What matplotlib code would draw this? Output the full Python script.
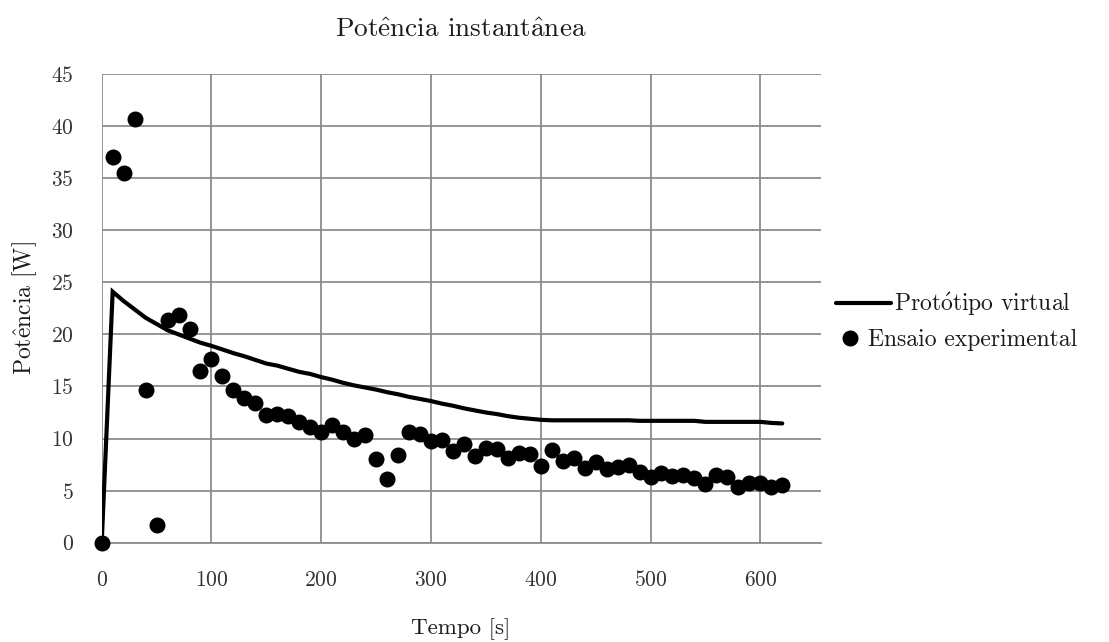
import matplotlib
matplotlib.use("Agg")
import matplotlib.pyplot as plt
from matplotlib.lines import Line2D

plt.rcParams['font.family'] = ['cmr10', 'DejaVu Serif']
plt.rcParams['mathtext.fontset'] = 'cm'
plt.rcParams['axes.formatter.use_mathtext'] = True

# Experimental test: instantaneous power sampled every 10 s
tempo_ensaio = list(range(0, 630, 10))
potencia_ensaio = [
    0.0, 37.0, 35.45, 40.7, 14.65, 1.7, 21.4, 21.9, 20.5, 16.5,
    17.6, 16.0, 14.7, 13.9, 13.4, 12.3, 12.4, 12.2, 11.6, 11.1,
    10.6, 11.3, 10.65, 10.0, 10.3, 8.0, 6.1, 8.4, 10.65, 10.4,
    9.75, 9.85, 8.8, 9.45, 8.3, 9.1, 8.95, 8.15, 8.6, 8.5,
    7.4, 8.9, 7.85, 8.1, 7.2, 7.7, 7.05, 7.25, 7.5, 6.75,
    6.3, 6.65, 6.45, 6.5, 6.25, 5.65, 6.5, 6.35, 5.3, 5.7,
    5.7, 5.3, 5.55,
]

# Virtual prototype simulation
tempo_virtual = list(range(0, 630, 10))
potencia_virtual = [
    0.0, 24.1, 23.2, 22.4, 21.6, 21.0, 20.4, 20.0, 19.6, 19.2,
    18.9, 18.55, 18.2, 17.9, 17.55, 17.2, 17.0, 16.7, 16.4, 16.2,
    15.9, 15.65, 15.35, 15.1, 14.9, 14.7, 14.45, 14.25, 14.0, 13.8,
    13.6, 13.35, 13.15, 12.9, 12.7, 12.5, 12.35, 12.15, 12.0, 11.9,
    11.8, 11.75, 11.75, 11.75, 11.75, 11.75, 11.75, 11.75, 11.75, 11.7,
    11.7, 11.7, 11.7, 11.7, 11.7, 11.6, 11.6, 11.6, 11.6, 11.6,
    11.6, 11.5, 11.45,
]

x_ticks = [0, 100, 200, 300, 400, 500, 600]
y_ticks = [0, 5, 10, 15, 20, 25, 30, 35, 40, 45]

# Accented letters drawn with mathtext so they stay in Computer Modern
titulo = r'Pot$\hat{\mathrm{e}}$ncia instant$\hat{\mathrm{a}}$nea'
rotulo_x = 'Tempo [s]'
rotulo_y = r'Pot$\hat{\mathrm{e}}$ncia [W]'
nome_virtual = r'Prot$\acute{\mathrm{o}}$tipo virtual'
nome_ensaio = 'Ensaio experimental'

fig = plt.figure(figsize=(11.09, 6.42), dpi=100)
ax = fig.add_axes([0.0917, 0.1547, 0.6483, 0.73])

ax.plot(tempo_virtual, potencia_virtual, color='black', lw=3.0,
        solid_capstyle='round', solid_joinstyle='miter', zorder=3)
ax.plot(tempo_ensaio, potencia_ensaio, 'o', color='black', ms=10.5,
        zorder=4, clip_on=False)

ax.set_xlim(0, 655)
ax.set_ylim(0, 45)
ax.set_xticks(x_ticks)
ax.set_yticks(y_ticks)
ax.grid(True, color='#8c8c8c', lw=1.3)
ax.set_axisbelow(True)
for s in ['top', 'right', 'left']:
    ax.spines[s].set_visible(False)
ax.spines['bottom'].set_color('#8c8c8c')
ax.spines['bottom'].set_linewidth(1.3)
ax.tick_params(length=0, labelsize=15.5, colors='#333333')
ax.tick_params(axis='x', pad=20)
ax.tick_params(axis='y', pad=20)

ax.set_title(titulo, fontsize=19.6, pad=27, color='#1a1a1a')
ax.set_xlabel(rotulo_x, fontsize=16.5, labelpad=20, color='#1a1a1a')
ax.set_ylabel(rotulo_y, fontsize=17, labelpad=9, color='#1a1a1a')

# Legend entries, placed to the right of the plot area
h_virtual = Line2D([], [], color='black', lw=3.0, solid_capstyle='round')
h_ensaio = Line2D([], [], ls='none', marker='o', color='black', ms=10.5)
leg1 = fig.legend([h_virtual], [nome_virtual], loc='upper left',
                  bbox_to_anchor=(0.754, 0.547), frameon=False, fontsize=17,
                  handlelength=2.33, handletextpad=0.13, borderpad=0,
                  borderaxespad=0, labelcolor='#1a1a1a')
leg2 = fig.legend([h_ensaio], [nome_ensaio], loc='upper left',
                  bbox_to_anchor=(0.758, 0.487), frameon=False, fontsize=17,
                  handlelength=0.8, handletextpad=0.36, borderpad=0,
                  borderaxespad=0, labelcolor='#1a1a1a')

fig.savefig('out.png', dpi=100)
